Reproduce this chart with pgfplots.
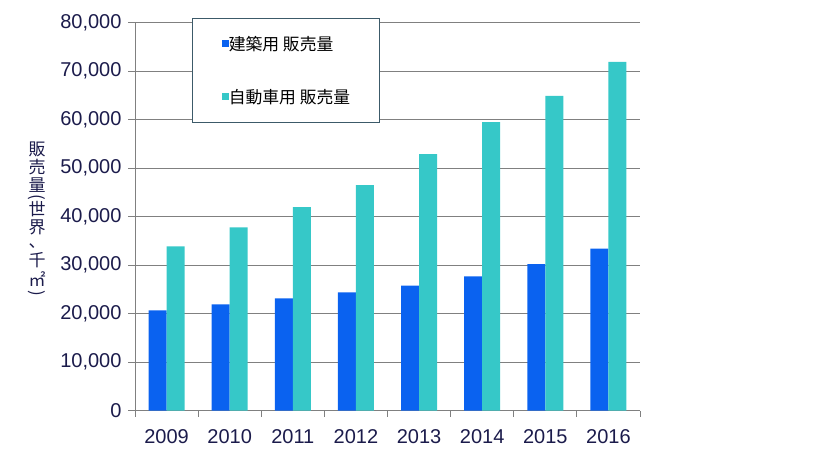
\documentclass[border=0pt]{standalone}
\usepackage{pgfplots}
\pgfplotsset{compat=1.18}
\usepackage{graphicx}
\usepackage{fontspec}
\setmainfont{Liberation Sans}
\newfontfamily\cjk{Noto Sans CJK JP}
\definecolor{barblue}{RGB}{10,98,240}
\definecolor{barcyan}{RGB}{54,200,200}
\definecolor{navy}{RGB}{27,27,75}
\definecolor{gridgray}{RGB}{128,128,128}
\definecolor{legframe}{RGB}{60,90,105}
\newcommand{\vparen}[1]{\rotatebox[origin=c]{-90}{#1}}
\begin{document}
\begin{tikzpicture}
\path[use as bounding box] (0,0) rectangle (827pt,460pt);
\begin{axis}[
  at={(135pt,49.3pt)}, anchor=south west,
  scale only axis, width=505pt, height=388pt,
  ybar=0pt, bar width=18pt,
  xmin=-0.5, xmax=7.5, ymin=0, ymax=80000,
  xtick={0,...,7}, xticklabels={2009,2010,2011,2012,2013,2014,2015,2016},
  minor xtick={-0.5,0.5,...,7.5},
  ytick={0,10000,...,80000},
  scaled y ticks=false,
  yticklabel style={/pgf/number format/fixed, /pgf/number format/1000 sep={,}, xshift=-3pt},
  xticklabel style={yshift=-8pt},
  /pgf/number format/assume math mode=true,
  ticklabel style={font=\fontsize{20}{24}\selectfont, text=navy},
  axis x line*=bottom, axis y line*=left,
  axis line style={draw=gridgray, line width=0.8pt, -},
  ymajorgrids, grid style={draw=gridgray, line width=0.8pt},
  tick align=outside, major tick length=7pt, minor tick length=6pt,
  tick style={draw=gridgray, line width=0.8pt},
  major x tick style={draw=none},
  every axis y label/.style={at={(axis description cs:-0.194,0.49)}, anchor=center, align=center, font=\cjk\fontsize{17}{18}\selectfont, text=navy},
  ylabel={販\\売\\量\\[-7pt]\vparen{(}\\[-5pt]世\\界\\[-4pt]、\\[1pt]千\\[2pt]㎡\\[-6pt]\vparen{)}},
  legend style={at={(axis description cs:0.1135,1.0113)}, anchor=north west, draw=legframe, line width=0.8pt, fill=white, inner xsep=29.5pt, inner ysep=17.5pt, row sep=37pt, nodes={inner sep=0pt}, font=\cjk\fontsize{16.8}{17}\selectfont, /tikz/every even column/.append style={column sep=5pt}},
  legend cell align=left,
  legend image code/.code={\fill[#1] (0pt,-3pt) rectangle (6.6pt,3.6pt);},
]
\addplot[fill=barblue, draw=none] coordinates {(0,20700) (1,21900) (2,23150) (3,24400) (4,25800) (5,27700) (6,30200) (7,33400)};
\addlegendentry{建築用 販売量}
\addplot[fill=barcyan, draw=none] coordinates {(0,33900) (1,37800) (2,42000) (3,46500) (4,52900) (5,59500) (6,64900) (7,71900)};
\addlegendentry{自動車用 販売量}
\end{axis}
\end{tikzpicture}
\end{document}
